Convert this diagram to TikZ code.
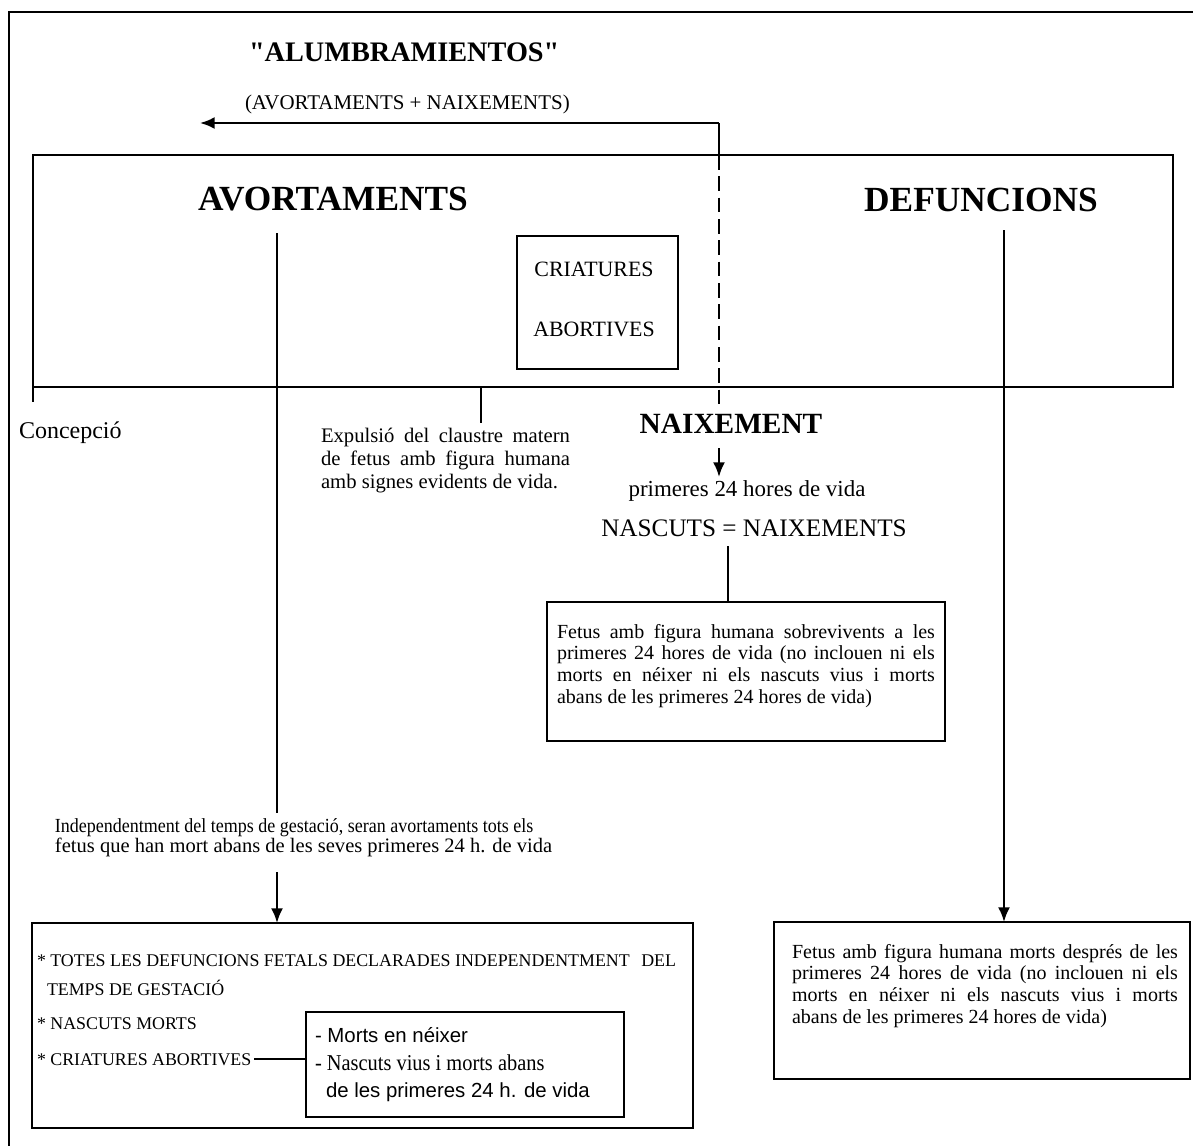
\documentclass[tikz,border=0pt]{standalone}
\usepackage{fontspec}
\setmainfont{Liberation Serif}
\newfontfamily\rawserif{Liberation Serif}
\newfontfamily\arialf{Liberation Sans}
\newfontfamily\condf[FakeStretch=0.9]{Liberation Serif}
\usetikzlibrary{arrows.meta}
\newcommand\fsz[1]{\fontsize{#1}{#1}\selectfont}
\newcommand\jl[2]{\hbox to #1{#2}}
\begin{document}
\begin{tikzpicture}[x=0.75pt,y=-0.75pt,
  ln/.style={line width=1.7pt},
  arr/.style={ln,-{Latex[length=11pt,width=9pt]}},
  dashln/.style={line width=2.2pt,dash pattern=on 11pt off 5pt},
  boxn/.style={draw,line width=1.7pt,inner sep=0pt,outer sep=0pt,anchor=north west},
  txt/.style={inner sep=0pt,outer sep=0pt},
  every node/.append style={txt}]
\useasboundingbox (0,0) rectangle (1193,1146);
% outer frame
\draw[ln] (9,1146) -- (9,12) -- (1193,12);

% boxes
\node[boxn,minimum width=855pt,minimum height=174pt] (mainbox) at (33,155) {};
\node[boxn,minimum width=120.75pt,minimum height=99.75pt] (crit) at (517,236) {};
\node[boxn,minimum width=298.5pt,minimum height=104.25pt] (midbox) at (547,602) {};
\node[boxn,minimum width=312pt,minimum height=117.75pt] (rbox) at (774,922) {};
\node[boxn,minimum width=495.75pt,minimum height=153.75pt] (lbox) at (32,923) {};
\node[boxn,minimum width=238.5pt,minimum height=78.75pt] (inbox) at (306,1012) {};

% titles
\node[anchor=base west,font=\rawserif\bfseries\fsz{21.2}] (alum) at (249,61) {"ALUMBRAMIENTOS"};
\node[anchor=base west,font=\fsz{15.7}] (paren) at (245,109) {(AVORTAMENTS + NAIXEMENTS)};

% top arrow and dashed line
\coordinate (nx0) at (719,123);
\coordinate (ah) at (200,123);
\coordinate (nx2) at (719,410);
\draw[arr] (nx0) -- (ah);
\draw[ln] (nx0) -- (nx0 |- mainbox.north);
\draw[dashln] (nx0 |- mainbox.north) -- (nx2);

% main box content
\node[anchor=base,font=\bfseries\fsz{26.5}] (avort) at (333,210) {AVORTAMENTS};
\node[anchor=base,font=\bfseries\fsz{26.5}] (defun) at (981,211) {DEFUNCIONS};
\node[anchor=base,font=\fsz{16.4}] (cr1) at (594,276) {CRIATURES};
\node[anchor=base,font=\fsz{16.4}] (cr2) at (594,336) {ABORTIVES};

% below main box
\draw[ln] (mainbox.south west) -- ++(0,15);
\node[anchor=base west,font=\fsz{18}] (conc) at (19,438) {Concepció};
\coordinate (tk) at (481,423);
\draw[ln] (tk |- mainbox.south) -- (tk);
\node[anchor=base west,font=\fsz{15.5}] (expul) at (321,442) {\vtop{\baselineskip=17.25pt
  \jl{186.75pt}{Expulsió del claustre matern}
  \jl{186.75pt}{de fetus amb figura humana}
  \hbox{amb signes evidents de vida.}}};

\node[anchor=base,font=\bfseries\fsz{22}] (naix) at (731,433) {NAIXEMENT};
\coordinate (nb1) at (719,448);
\coordinate (nb2) at (719,477);
\draw[arr] (nb1) -- (nb2);
\node[anchor=base,font=\fsz{17.2}] (prim) at (747,496) {primeres 24 hores de vida};
\node[anchor=base,font=\fsz{18.9}] (nasc) at (754,536) {NASCUTS = NAIXEMENTS};
\coordinate (ns) at (728,546);
\draw[ln] (ns) -- (ns |- midbox.north);
\node[anchor=base west,font=\fsz{15}] (midtxt) at (557,638) {\vtop{\baselineskip=16.3pt
  \jl{283.5pt}{Fetus amb figura humana sobrevivents a les}
  \jl{283.5pt}{primeres 24 hores de vida (no inclouen ni els}
  \jl{283.5pt}{morts en néixer ni els nascuts vius i morts}
  \hbox{abans de les primeres 24 hores de vida)}}};

% left column
\coordinate (av1) at (277,233);
\coordinate (av2) at (277,813);
\coordinate (av3) at (277,872);
\draw[ln] (av1) -- (av2);
\node[anchor=base west,font=\condf\fsz{15}] (ind1) at (55,832) {Independentment del temps de gestació, seran avortaments tots els};
\node[anchor=base west,font=\fsz{15.4}] (ind2) at (55,852) {fetus que han mort abans de les seves primeres 24 h. de vida};
\draw[arr] (av3) -- (av3 |- lbox.north);

\node[anchor=base west,font=\fsz{13.4}] (tot) at (37,966) {* TOTES LES DEFUNCIONS FETALS DECLARADES INDEPENDENTMENT};
\node[anchor=base east,font=\fsz{13.4}] (del) at (676,966) {DEL};
\node[anchor=base west,font=\fsz{13.4}] (tem) at (47,995) {TEMPS DE GESTACIÓ};
\node[anchor=base west,font=\fsz{13.4}] (nam) at (37,1029) {* NASCUTS MORTS};
\node[anchor=base west,font=\fsz{13.4}] (crab) at (37,1065) {* CRIATURES ABORTIVES};
\draw[ln] ([xshift=2pt]crab.east) -- (crab.east -| inbox.west);
\node[anchor=base west,font=\arialf\fsz{15.3}] (m1) at (315,1042) {- Morts en néixer};
\node[anchor=base west,font=\condf\fsz{17}] (m2) at (315,1070) {- Nascuts vius i morts abans};
\node[anchor=base west,font=\arialf\fsz{15.3}] (m3) at (326,1097) {de les primeres 24 h. de vida};

% right column
\coordinate (df1) at (1004,230);
\draw[arr] (df1) -- (df1 |- rbox.north);
\node[anchor=base west,font=\fsz{15}] (rtxt) at (792,958) {\vtop{\baselineskip=16.3pt
  \jl{289.5pt}{Fetus amb figura humana morts després de les}
  \jl{289.5pt}{primeres 24 hores de vida (no inclouen ni els}
  \jl{289.5pt}{morts en néixer ni els nascuts vius i morts}
  \hbox{abans de les primeres 24 hores de vida)}}};
\end{tikzpicture}
\end{document}
